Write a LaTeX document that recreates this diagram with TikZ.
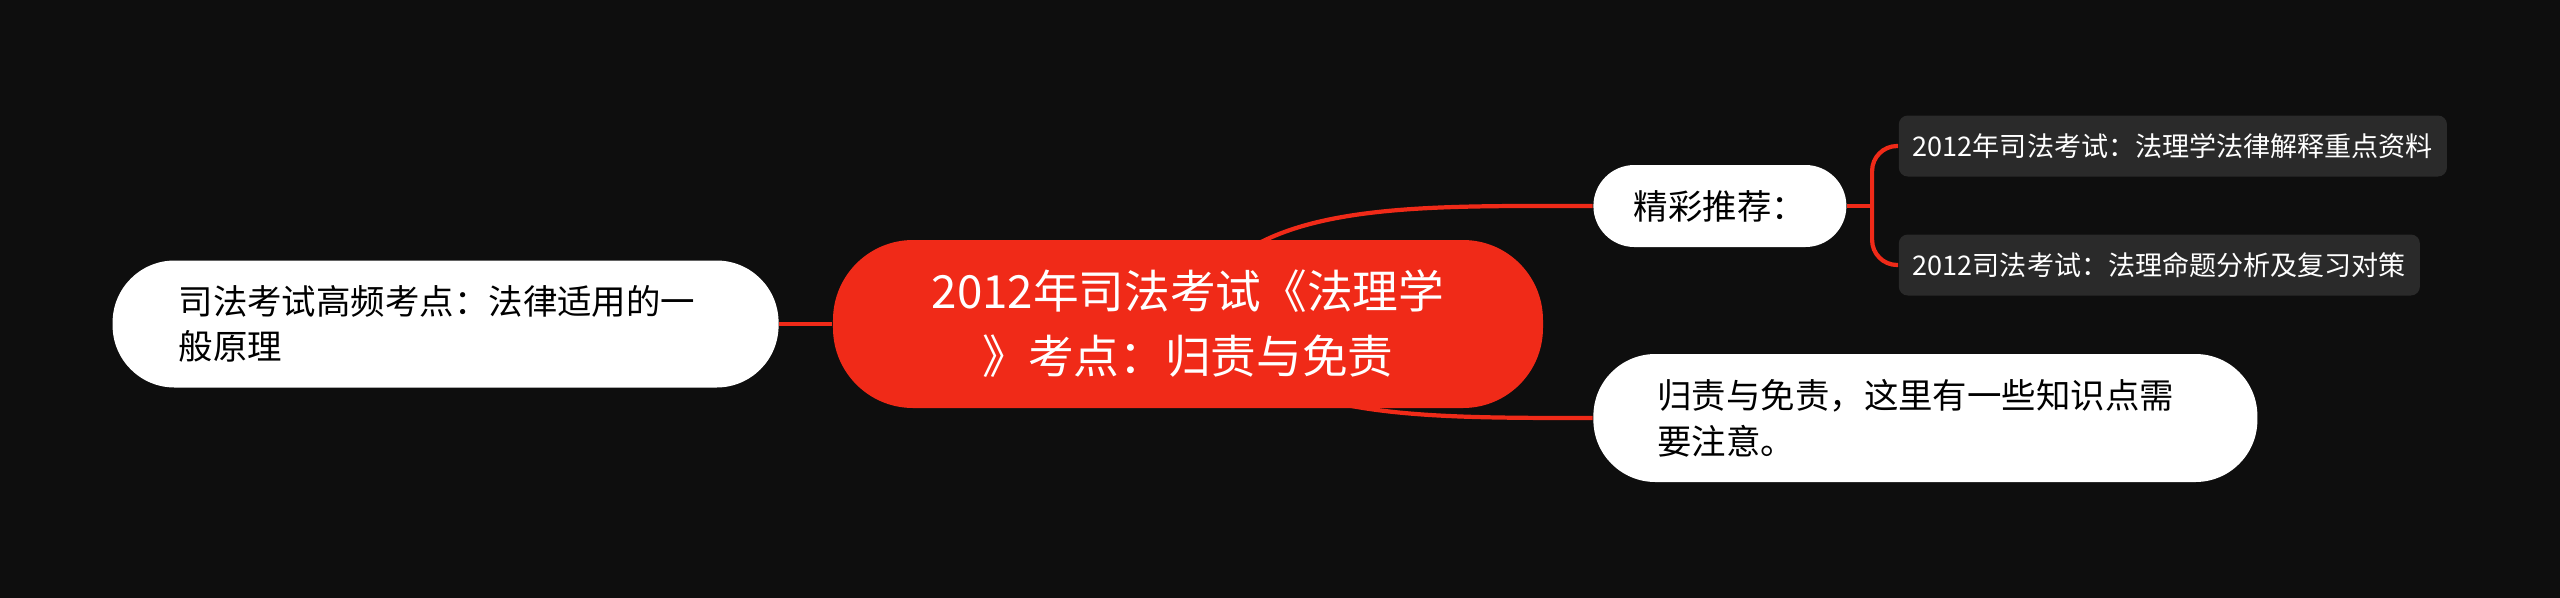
\documentclass[tikz,border=0pt]{standalone}
\usepackage{fontspec}
\newfontfamily\cjk{Noto Sans CJK SC}
\usetikzlibrary{positioning, backgrounds}
\definecolor{bgdark}{HTML}{0E0E0E}
\definecolor{mainred}{HTML}{F02A18}
\definecolor{leafgray}{HTML}{2A2A2A}

\begin{document}
\begin{tikzpicture}[
    	root/.style={rectangle, rounded corners=0.8cm, minimum width=7.1cm, minimum height=1.68cm, fill=mainred, text=white, align=center, font=\cjk\fontsize{13pt}{18.5pt}\selectfont},
    	branch/.style={rectangle, fill=white, text=black, inner ysep=0pt, font=\cjk\fontsize{9.8pt}{13pt}\selectfont},
    	leaf/.style={rectangle, rounded corners=0.09cm, fill=leafgray, text=white, minimum height=0.61cm, inner xsep=0.14cm, inner ysep=0pt, font=\cjk\fontsize{7.7pt}{9pt}\selectfont},
    	link/.style={draw=mainred, line width=1.2pt}
    	]
    	\useasboundingbox (-11.88,3.24) rectangle (13.72,-2.73);
    	
    	% 中心主题
    	\node (topic) [root] {2012年司法考试《法理学\\》考点：归责与免责};
    	
    	% 左侧分支
    	\node (principle) [branch, left=0.53cm of topic, rounded corners=0.62cm, minimum height=1.27cm, text width=5.34cm, inner xsep=0.66cm, align=left] {司法考试高频考点：法律适用的一\\般原理};
    	
    	% 右侧分支
    	\node (recommend) [branch, right=0.49cm of topic, yshift=1.18cm, rounded corners=0.41cm, minimum width=2.53cm, minimum height=0.82cm] {精彩推荐：};
    	\node (notice) [branch, right=0.49cm of topic, yshift=-0.94cm, rounded corners=0.62cm, minimum height=1.28cm, text width=5.36cm, inner xsep=0.64cm, align=left] {归责与免责，这里有一些知识点需\\要注意。};
    	
    	% 推荐条目
    	\node (rec1) [leaf, right=0.51cm of recommend, yshift=0.6cm] {2012年司法考试：法理学法律解释重点资料};
    	\node (rec2) [leaf, right=0.51cm of recommend, yshift=-0.59cm] {2012司法考试：法理命题分析及复习对策};
    	\coordinate (fork) at ([xshift=0.25cm]recommend.east);
    	
    	% 连接线
    	\begin{scope}[on background layer]
    		\fill [bgdark] (-12,3.4) rectangle (13.9,-2.9);
    		\draw [link] (topic) -- (principle);
    		\draw [link] (topic.center) .. controls +(0.42,1.24) and +(-1.92,0) .. (recommend.west);
    		\draw [link] (topic.center) .. controls +(0.92,-0.94) and +(-1.92,0) .. (notice.west);
    		\draw [link] (recommend) -- (fork);
    		\draw [link, rounded corners=0.25cm] (fork) |- (rec1);
    		\draw [link, rounded corners=0.25cm] (fork) |- (rec2);
    	\end{scope}
    	
    \end{tikzpicture}
\end{document}
